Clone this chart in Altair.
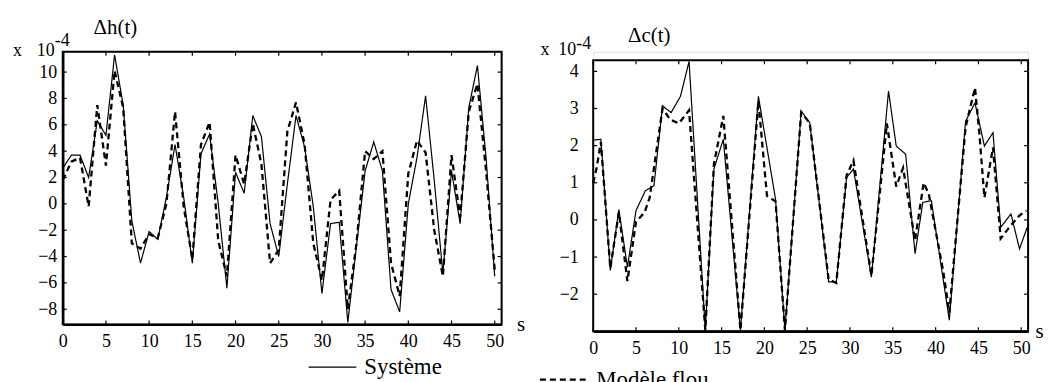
import altair as alt
import pandas as pd

FONT = "Liberation Serif"

# ---------------- data ----------------
# left panel : delta h(t), x 1e-4, sampled every second
t_h = list(range(51))
sys_h = [2.7, 3.7, 3.7, 2.0, 6.3, 5.2, 11.3, 7.5, -1.3, -4.5,
         -2.1, -2.7, 0.5, 4.5, 0.5, -4.5, 3.8, 5.3, 0.0, -6.4,
         2.4, 0.8, 6.7, 5.1, -1.5, -4.0, 1.5, 6.7, 4.3, -0.2,
         -6.8, -1.5, -1.4, -9.0, -3.2, 2.5, 4.7, 2.5, -6.5, -8.2,
         0.0, 3.5, 8.2, 1.8, -5.3, 2.5, -1.5, 7.3, 10.5, 3.5, -5.5]
mod_h = [1.8, 3.2, 3.5, -0.2, 7.5, 2.9, 10.1, 7.3, -3.0, -3.4,
         -2.3, -2.6, 0.0, 7.0, -0.2, -4.2, 4.5, 6.2, -2.8, -5.5,
         3.7, 1.5, 6.1, 3.0, -4.5, -3.5, 5.5, 7.7, 4.5, -3.0,
         -5.8, 0.3, 1.0, -8.0, -3.0, 4.0, 3.4, 4.0, -4.5, -7.0,
         2.3, 4.8, 3.9, -2.0, -5.5, 3.7, -1.0, 7.0, 9.1, 2.5, -5.0]

# right panel : delta c(t), x 1e-4
sys_c_t = [0.0, 0.9, 2.0, 3.0, 4.0, 5.0, 6.1, 7.1, 8.1, 9.1, 10.2, 11.2,
           13.1, 14.1, 15.2, 17.2, 19.3, 21.3, 22.4, 24.3, 25.3, 27.5,
           28.4, 29.6, 30.4, 32.5, 34.5, 35.4, 36.5, 37.6, 38.5, 39.5,
           41.6, 43.5, 44.6, 45.7, 46.7, 47.6, 48.8, 49.8, 50.7]
sys_c = [2.15, 2.17, -1.36, 0.28, -1.27, 0.25, 0.79, 0.92, 3.07, 2.89, 3.33, 4.27,
         -2.97, 1.37, 2.17, -2.97, 3.33, 0.56, -2.97, 2.93, 2.62, -1.67,
         -1.67, 1.14, 1.37, -1.54, 3.47, 1.99, 1.77, -0.91, 0.47, 0.52,
         -2.70, 2.66, 3.15, 1.99, 2.35, -0.20, 0.16, -0.78, -0.20]
mod_c_t = [0.0, 0.4, 0.9, 2.0, 3.0, 4.0, 5.0, 6.0, 6.6, 8.1, 9.0, 10.0, 11.2,
           13.1, 14.1, 15.2, 17.2, 19.3, 20.3, 21.3, 22.4, 24.3, 25.3, 27.5,
           28.4, 29.6, 30.4, 32.5, 34.3, 35.4, 36.2, 37.6, 38.6, 39.2, 40.9,
           41.6, 43.5, 44.6, 45.1, 45.7, 46.7, 47.6, 48.6, 49.8, 50.6]
mod_c = [1.0, 1.4, 2.1, -1.3, 0.2, -1.65, -0.05, 0.2, 0.6, 3.0, 2.7, 2.6, 2.95,
         -2.97, 1.5, 2.8, -2.97, 3.2, 0.65, 0.5, -2.97, 2.9, 2.6, -1.6,
         -1.7, 1.2, 1.6, -1.5, 2.6, 0.9, 1.4, -0.55, 1.0, 0.7, -1.4,
         -2.5, 2.5, 3.56, 2.35, 0.6, 1.95, -0.5, -0.2, 0.12, 0.25]

x_ticks = [0, 5, 10, 15, 20, 25, 30, 35, 40, 45, 50]
h_ticks = [-8, -6, -4, -2, 0, 2, 4, 6, 8, 10]
c_ticks = [-2, -1, 0, 1, 2, 3, 4]
series = ["Système", "Modèle flou"]

X_DOM = [0, 50.8]
H_DOM = [-9.15, 11.55]
H_FRAME = [-9.15, 11.55]
C_DOM = [-3.0, 4.53]
C_FRAME = [-3.0, 4.3]


def lines_df(t1, v1, t2, v2):
    return pd.DataFrame({
        "t": list(t1) + list(t2),
        "v": list(v1) + list(v2),
        "serie": [series[0]] * len(t1) + [series[1]] * len(t2),
    })


def panel(df, ydom, frame, yticks, w, h, title, tdx, toff, mult,
          ylpad, ydomain, leg_val, legx, legy, stx):
    xs = alt.Scale(domain=X_DOM, nice=False, zero=False)
    ys = alt.Scale(domain=ydom, nice=False, zero=False)

    xaxis = alt.Axis(values=x_ticks, title="s", titleX=stx, titleY=6,
                     titleAlign="left", titleBaseline="alphabetic", titleAngle=0,
                     titleFont=FONT, titleFontSize=21, titleFontWeight="normal",
                     titleColor="black", labelFont=FONT, labelFontSize=18,
                     labelColor="black", labelPadding=8, labelFlush=False,
                     ticks=False, grid=False, domainColor="black", domainWidth=2.5)
    yaxis = alt.Axis(values=yticks, title="",
                     labelFont=FONT, labelFontSize=18, labelColor="black",
                     labelPadding=ylpad, labelFlush=False, ticks=False, grid=False,
                     domain=ydomain, domainColor="black", domainWidth=2.5)

    legend = alt.Legend(values=[leg_val], title=None, orient="none",
                        legendX=legx, legendY=legy, symbolType="stroke",
                        symbolSize=2304, symbolStrokeColor="black",
                        labelFont=FONT, labelFontSize=23, labelColor="black",
                        labelOffset=7, padding=0)

    lines = alt.Chart(df).mark_line(color="black").encode(
        x=alt.X("t:Q", scale=xs, axis=xaxis),
        y=alt.Y("v:Q", scale=ys, axis=yaxis),
        strokeDash=alt.StrokeDash("serie:N", sort=series,
                                  scale=alt.Scale(domain=series, range=[[1, 0], [6, 4]]),
                                  legend=legend),
        strokeWidth=alt.StrokeWidth("serie:N", sort=series,
                                    scale=alt.Scale(domain=series, range=[1.2, 2.3]),
                                    legend=legend),
    )

    frame_df = pd.DataFrame({"x0": [X_DOM[0]], "x1": [X_DOM[1]],
                             "y0": [frame[0]], "y1": [frame[1]]})
    box = alt.Chart(frame_df).mark_rect(fillOpacity=0, stroke="black", strokeWidth=2).encode(
        x=alt.X("x0:Q", scale=xs, axis=xaxis), x2="x1:Q",
        y=alt.Y("y0:Q", scale=ys, axis=yaxis), y2="y1:Q")

    # small inward ticks on the four sides of the frame
    lx = 4.0 * (X_DOM[1] - X_DOM[0]) / w
    ly = 4.0 * (ydom[1] - ydom[0]) / h
    xt = pd.DataFrame({
        "t": x_ticks * 2,
        "a": [frame[0]] * len(x_ticks) + [frame[1]] * len(x_ticks),
        "b": [frame[0] + ly] * len(x_ticks) + [frame[1] - ly] * len(x_ticks),
    })
    yt = pd.DataFrame({
        "v": yticks * 2,
        "a": [X_DOM[0]] * len(yticks) + [X_DOM[1]] * len(yticks),
        "b": [X_DOM[0] + lx] * len(yticks) + [X_DOM[1] - lx] * len(yticks),
    })
    xtick = alt.Chart(xt).mark_rule(color="black", strokeWidth=1.2).encode(
        x=alt.X("t:Q", scale=xs, axis=xaxis),
        y=alt.Y("a:Q", scale=ys, axis=yaxis), y2="b:Q")
    ytick = alt.Chart(yt).mark_rule(color="black", strokeWidth=1.2).encode(
        y=alt.Y("v:Q", scale=ys, axis=yaxis),
        x=alt.X("a:Q", scale=xs, axis=xaxis), x2="b:Q")

    # "x 10^-4" multiplier, anchored at the top-left corner of the frame
    anchor = pd.DataFrame({"k": [0]})
    notes = []
    for txt, align, dx, dy in mult:
        notes.append(
            alt.Chart(anchor).mark_text(text=txt, align=align, baseline="alphabetic",
                                        dx=dx, dy=dy, font=FONT, fontSize=18,
                                        color="black").encode(
                x=alt.X(datum=X_DOM[0], scale=xs, axis=xaxis),
                y=alt.Y(datum=frame[1], scale=ys, axis=yaxis))
        )

    return alt.layer(box, xtick, ytick, lines, *notes).properties(
        width=w, height=h,
        title=alt.TitleParams(text=title, anchor="start", frame="group", dx=tdx,
                              offset=toff, font=FONT, fontSize=21,
                              fontWeight="normal", color="black"),
    )


mult_left = [("x", "right", -41, 4), ("10", "right", -8, 4), ("-4", "left", -8, -6)]
mult_right = [("x", "right", -44, -5), ("10", "right", -17, -5), ("-4", "left", -17, -11)]

left = panel(lines_df(t_h, sys_h, t_h, mod_h), H_DOM, H_FRAME, h_ticks, 441, 274,
             "Δh(t)", 31, -6, mult_left, 6, True, "Système", 246, 292, 456)
right = panel(lines_df(sys_c_t, sys_c, mod_c_t, mod_c), C_DOM, C_FRAME, c_ticks, 437, 281,
              "Δc(t)", 35, -11, mult_right, 15, False, "Modèle flou", -55, 304, 444)

chart = alt.hconcat(left, right, spacing=12).resolve_scale(
    x="independent", y="independent", strokeDash="independent", strokeWidth="independent"
).resolve_legend(
    strokeDash="independent", strokeWidth="independent"
).properties(
    padding={"left": 4, "top": 7, "right": 0, "bottom": -12}
).configure_view(stroke="transparent", strokeWidth=0).configure(font=FONT)

chart.save("out.html", embed_options={"renderer": "svg", "actions": False})
